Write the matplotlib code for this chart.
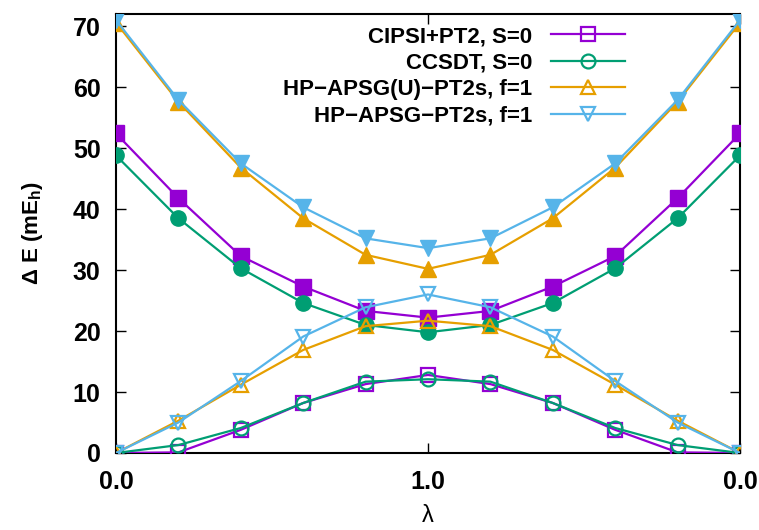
import matplotlib
matplotlib.use("Agg")
import matplotlib.pyplot as plt

# lambda path: 0 -> 1 -> 0, plotted on an index axis
lam_labels = ["0.0", "1.0", "0.0"]
lam_label_pos = [0, 5, 10]
idx = list(range(11))

# upper (filled markers) and lower (open markers) states, mE_h
cipsi_upper = [52.4, 41.8, 32.3, 27.3, 23.3, 22.2, 23.3, 27.3, 32.3, 41.8, 52.4]
cipsi_lower = [0.0, 0.1, 3.8, 8.2, 11.3, 12.8, 11.3, 8.2, 3.8, 0.1, 0.0]
ccsdt_upper = [48.8, 38.5, 30.3, 24.6, 21.0, 19.8, 21.0, 24.6, 30.3, 38.5, 48.8]
ccsdt_lower = [0.0, 1.3, 4.1, 8.2, 11.7, 12.1, 11.7, 8.2, 4.1, 1.3, 0.0]
apsgu_upper = [70.6, 57.6, 46.8, 38.5, 32.5, 30.2, 32.5, 38.5, 46.8, 57.6, 70.6]
apsgu_lower = [0.0, 5.3, 11.2, 16.9, 20.8, 21.7, 20.8, 16.9, 11.2, 5.3, 0.0]
apsg_upper = [71.0, 57.9, 47.5, 40.3, 35.2, 33.6, 35.2, 40.3, 47.5, 57.9, 71.0]
apsg_lower = [0.0, 5.0, 11.8, 19.1, 23.9, 26.0, 23.9, 19.1, 11.8, 5.0, 0.0]

names = ["CIPSI+PT2, S=0", "CCSDT, S=0", "HP\u2212APSG(U)\u2212PT2s, f=1", "HP\u2212APSG\u2212PT2s, f=1"]
colors = ["#9400d3", "#009e73", "#e69f00", "#56b4e9"]
markers = ["s", "o", "^", "v"]

fam = ["Liberation Sans", "DejaVu Sans"]
plt.rcParams["font.family"] = fam
plt.rcParams["font.weight"] = "bold"
plt.rcParams["mathtext.fontset"] = "custom"
plt.rcParams["mathtext.rm"] = "Liberation Sans"
plt.rcParams["mathtext.bf"] = "Liberation Sans:bold"
plt.rcParams["mathtext.it"] = "Liberation Sans:italic"
plt.rcParams["mathtext.default"] = "bf"

fig = plt.figure(figsize=(7.59, 5.30), dpi=100)
ax = fig.add_axes([0.1528, 0.1453, 0.8222, 0.8283])

series = [(cipsi_upper, cipsi_lower), (ccsdt_upper, ccsdt_lower),
          (apsgu_upper, apsgu_lower), (apsg_upper, apsg_lower)]

for (up, lo), name, c, m in zip(series, names, colors, markers):
    ax.plot(idx, lo, color=c, lw=1.6, marker=m, ms=10, mfc="none", mew=1.6, label=name)
    ax.plot(idx, up, color=c, lw=1.6, marker=m, ms=11, mfc=c, mec=c)

ax.set_xlim(0, 10)
ax.set_ylim(0, 72)
ax.set_xticks(lam_label_pos)
ax.set_xticklabels(lam_labels)
ax.set_yticks(range(0, 71, 10))
ax.tick_params(direction="in", length=7, width=1, top=True, right=True, labelsize=18)
ax.tick_params(axis="y", pad=11)
ax.tick_params(axis="x", pad=12)
for lbl in ax.get_xticklabels() + ax.get_yticklabels():
    lbl.set_fontweight("bold")
for s in ax.spines.values():
    s.set_linewidth(1.5)
    s.set_zorder(0)

ax.set_ylabel("$\\mathrm{\\Delta}$ E (mE$_h$)", fontsize=16, fontweight="bold", labelpad=20)
ax.set_xlabel("\u03bb", fontsize=17, fontweight="normal", labelpad=8)

ax.legend(loc="upper right", bbox_to_anchor=(0.847, 1.018), frameon=False, markerfirst=False,
          handlelength=3.3, handletextpad=0.85, labelspacing=0.25,
          prop={"weight": "bold", "size": 16, "family": fam})

fig.savefig("out.png", dpi=100)
